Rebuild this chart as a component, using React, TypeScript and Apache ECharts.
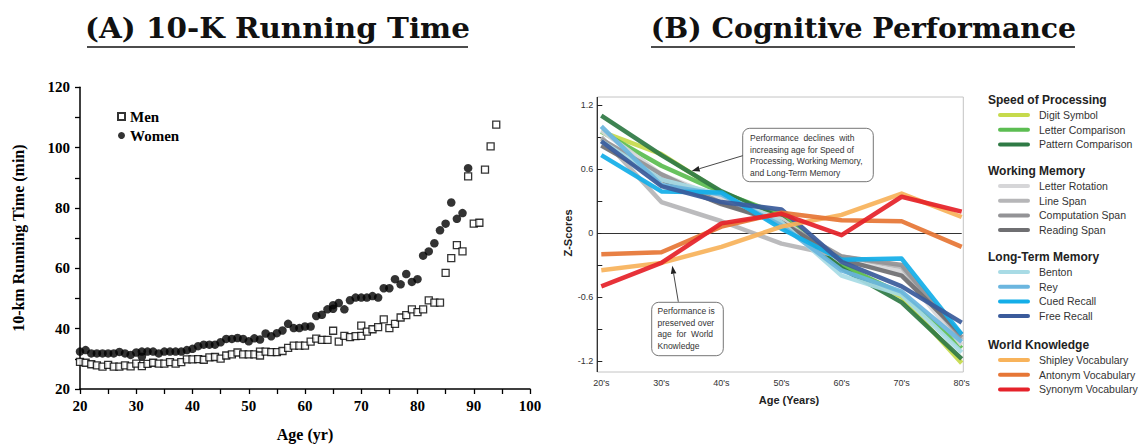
import React, { useEffect, useRef } from "react";
import * as echarts from "echarts";

// ---------- Panel A data: 10-km running time (min) by age ----------
const menPoints: number[][] = [
  [20, 29.0], [21, 28.7], [22, 28.2], [23, 27.8], [24, 27.4], [25, 28.0], [26, 27.4], [27, 27.4], [28, 27.8], [29, 27.5],
  [30, 28.4], [31, 27.6], [32, 28.3], [33, 28.7], [34, 28.4], [35, 28.4], [36, 28.9], [37, 28.4], [38, 28.9], [39, 29.8],
  [40, 29.8], [41, 29.9], [42, 29.7], [43, 30.5], [44, 30.6], [45, 30.1], [46, 31.1], [47, 31.5], [48, 32.1], [49, 31.5],
  [50, 31.5], [51, 31.5], [52, 32.4], [52, 31.1], [53, 32.4], [54, 32.2], [55, 32.2], [56, 32.6], [57, 33.6], [58, 34.4],
  [59, 34.4], [60, 34.4], [61, 35.7], [62, 36.7], [63, 36.3], [64, 36.3], [65, 39.3], [66, 35.7], [67, 37.6], [68, 37.2],
  [69, 37.5], [70, 41.0], [70, 37.6], [71, 39.0], [72, 39.8], [73, 40.5], [74, 43.1], [75, 40.2], [76, 41.6], [77, 43.7],
  [78, 44.5], [79, 46.4], [80, 45.5], [81, 46.4], [82, 49.4], [83, 48.6], [84, 48.6], [85, 58.5], [86, 63.4], [87, 67.7],
  [88, 65.6], [89, 90.5], [90, 74.8], [91, 75.1], [92, 92.7], [93, 100.4], [94, 107.6],
];
const womenPoints: number[][] = [
  [20, 32.4], [21, 32.9], [22, 31.8], [23, 31.8], [24, 31.8], [25, 31.8], [26, 31.8], [27, 32.3], [28, 31.8], [29, 31.3],
  [30, 32.1], [31, 30.7], [31, 32.4], [32, 32.4], [33, 32.4], [34, 31.8], [35, 32.4], [36, 32.4], [37, 32.4], [38, 32.4],
  [39, 32.9], [40, 33.3], [41, 34.2], [42, 34.7], [43, 34.7], [44, 34.7], [45, 35.5], [46, 36.6], [47, 36.6], [48, 36.9],
  [49, 36.6], [50, 35.8], [51, 36.8], [52, 36.4], [53, 38.4], [54, 37.5], [55, 38.5], [56, 39.4], [57, 41.6], [58, 40.2],
  [59, 40.2], [60, 40.7], [61, 40.7], [62, 44.2], [63, 44.6], [64, 46.4], [65, 47.8], [65, 46.6], [66, 48.5], [67, 46.4],
  [68, 49.4], [69, 50.3], [70, 50.3], [71, 50.3], [72, 50.8], [73, 50.3], [74, 53.4], [75, 53.4], [76, 56.4], [77, 54.7],
  [78, 58.1], [79, 55.5], [80, 56.4], [81, 64.2], [82, 65.6], [83, 68.3], [84, 72.6], [85, 74.8], [86, 81.8], [87, 76.4],
  [88, 78.3], [89, 93.2],
];

// ---------- Panel B data: z-scores by age decade ----------
const ageDecades = ["20's", "30's", "40's", "50's", "60's", "70's", "80's"];

const digitSymbol = [0.95, 0.74, 0.38, 0.15, -0.3, -0.6, -1.22];
const letterComparison = [0.95, 0.63, 0.38, 0.17, -0.3, -0.57, -1.08];
const patternComparison = [1.1, 0.73, 0.39, 0.14, -0.33, -0.65, -1.18];
const letterRotation = [0.96, 0.55, 0.32, 0.13, -0.27, -0.36, -1.05];
const lineSpan = [0.9, 0.29, 0.11, -0.1, -0.22, -0.32, -1.0];
const computationSpan = [0.88, 0.55, 0.28, 0.1, -0.22, -0.3, -0.98];
const readingSpan = [0.82, 0.5, 0.27, 0.1, -0.25, -0.4, -0.95];
const benton = [0.86, 0.5, 0.36, 0.1, -0.4, -0.58, -1.12];
const rey = [1.0, 0.45, 0.36, 0.07, -0.35, -0.55, -1.02];
const cuedRecall = [0.73, 0.39, 0.38, 0.04, -0.25, -0.24, -0.95];
const freeRecall = [0.86, 0.44, 0.29, 0.22, -0.27, -0.5, -0.84];
const shipleyVocabulary = [-0.35, -0.28, -0.13, 0.06, 0.17, 0.37, 0.15];
const antonymVocabulary = [-0.2, -0.18, 0.06, 0.19, 0.12, 0.11, -0.13];
const synonymVocabulary = [-0.5, -0.28, 0.09, 0.18, -0.02, 0.34, 0.2];

const zTicks = [-1.2, -0.6, 0, 0.6, 1.2];

const groups = [
  {
    title: "Speed of Processing",
    items: [
      { name: "Digit Symbol", color: "#c6da4c", data: digitSymbol },
      { name: "Letter Comparison", color: "#5cbd52", data: letterComparison },
      { name: "Pattern Comparison", color: "#2f7a45", data: patternComparison },
    ],
  },
  {
    title: "Working Memory",
    items: [
      { name: "Letter Rotation", color: "#d6d6d8", data: letterRotation },
      { name: "Line Span", color: "#b6b6b8", data: lineSpan },
      { name: "Computation Span", color: "#939396", data: computationSpan },
      { name: "Reading Span", color: "#6f6f72", data: readingSpan },
    ],
  },
  {
    title: "Long-Term Memory",
    items: [
      { name: "Benton", color: "#a8dbe5", data: benton },
      { name: "Rey", color: "#6bb6df", data: rey },
      { name: "Cued Recall", color: "#14aee8", data: cuedRecall },
      { name: "Free Recall", color: "#3a5b9b", data: freeRecall },
    ],
  },
  {
    title: "World Knowledge",
    items: [
      { name: "Shipley Vocabulary", color: "#f8b35b", data: shipleyVocabulary },
      { name: "Antonym Vocabulary", color: "#e67636", data: antonymVocabulary },
      { name: "Synonym Vocabulary", color: "#e5222a", data: synonymVocabulary },
    ],
  },
];

const note1 = [
  "Performance  declines  with",
  "increasing age for Speed of",
  "Processing, Working Memory,",
  "and Long-Term Memory",
];
const note2 = ["Performance is", "preserved over", "age  for  World", "Knowledge"];

const SERIF = "'Liberation Serif', 'Times New Roman', serif";
const TITLE_SERIF = "'DejaVu Serif', 'Liberation Serif', serif";
const SANS = "'Liberation Sans', Arial, Helvetica, sans-serif";

function arrow(x1: number, y1: number, x2: number, y2: number): any[] {
  const dx = x2 - x1;
  const dy = y2 - y1;
  const len = Math.sqrt(dx * dx + dy * dy);
  const ux = dx / len;
  const uy = dy / len;
  const bx = x2 - ux * 8;
  const by = y2 - uy * 8;
  const px = -uy * 2.8;
  const py = ux * 2.8;
  return [
    { type: "line", z: 100, shape: { x1, y1, x2: bx, y2: by }, style: { stroke: "#333", lineWidth: 0.9 } },
    {
      type: "polygon",
      z: 100,
      shape: { points: [[x2, y2], [bx + px, by + py], [bx - px, by - py]] },
      style: { fill: "#222" },
    },
  ];
}

function buildOption(): any {
  const graphics: any[] = [];

  // Titles with underline
  const titles = [
    { text: "(A) 10-K Running Time", cx: 277.5, x1: 87, x2: 468, sx: 1.09 },
    { text: "(B) Cognitive Performance", cx: 863.5, x1: 651, x2: 1075, sx: 1.05 },
  ];
  titles.forEach((t) => {
    graphics.push({
      type: "text",
      x: t.cx,
      y: 15,
      scaleX: t.sx,
      style: {
        text: t.text,
        fill: "#111",
        font: `bold 27px ${TITLE_SERIF}`,
        textAlign: "center",
        textVerticalAlign: "top",
      },
    });
    graphics.push({
      type: "line",
      shape: { x1: t.x1, y1: 47, x2: t.x2, y2: 47 },
      style: { stroke: "#111", lineWidth: 1.6 },
    });
  });

  // Panel B frame
  graphics.push({
    type: "rect",
    z: 0,
    shape: { x: 597.3, y: 97, width: 366, height: 275 },
    style: { fill: "none", stroke: "#c4c4c4", lineWidth: 1 },
  });
  graphics.push({
    type: "line",
    z: 1,
    shape: { x1: 597.3, y1: 97, x2: 597.3, y2: 372 },
    style: { stroke: "#222", lineWidth: 1.2 },
  });
  graphics.push({
    type: "text",
    x: 789,
    y: 400,
    style: {
      text: "Age (Years)",
      fill: "#222",
      font: `bold 11px ${SANS}`,
      textAlign: "center",
      textVerticalAlign: "middle",
    },
  });

  // Annotation boxes
  graphics.push({
    type: "rect",
    z: 99,
    shape: { x: 742.7, y: 128.3, width: 130.6, height: 53.4, r: 7 },
    style: { fill: "#fff", stroke: "#666", lineWidth: 0.9 },
  });
  note1.forEach((line, i) => {
    graphics.push({
      type: "text",
      z: 100,
      x: 750,
      y: 138 + i * 11.6,
      style: { text: line, fill: "#333", font: `8.5px ${SANS}`, textVerticalAlign: "middle" },
    });
  });
  graphics.push(...arrow(742.7, 155.7, 691.7, 171));

  graphics.push({
    type: "rect",
    z: 99,
    shape: { x: 651.7, y: 302.3, width: 71.6, height: 53.4, r: 7 },
    style: { fill: "#fff", stroke: "#666", lineWidth: 0.9 },
  });
  note2.forEach((line, i) => {
    graphics.push({
      type: "text",
      z: 100,
      x: 657.5,
      y: 311 + i * 11.7,
      style: { text: line, fill: "#333", font: `8.5px ${SANS}`, textVerticalAlign: "middle" },
    });
  });
  graphics.push(...arrow(678.3, 301.7, 672.3, 265.7));

  // Panel B grouped legend
  const headerYs = [100, 171, 257, 345];
  groups.forEach((g, gi) => {
    const hy = headerYs[gi];
    graphics.push({
      type: "text",
      x: 988,
      y: hy,
      style: { text: g.title, fill: "#222", font: `bold 12px ${SANS}`, textVerticalAlign: "middle" },
    });
    g.items.forEach((it, ii) => {
      const y = hy + 15 + ii * 14.7;
      graphics.push({
        type: "line",
        shape: { x1: 1000, y1: y, x2: 1028, y2: y },
        style: { stroke: it.color, lineWidth: 4, lineCap: "round" },
      });
      graphics.push({
        type: "text",
        x: 1039,
        y,
        style: { text: it.name, fill: "#333", font: `10.5px ${SANS}`, textVerticalAlign: "middle" },
      });
    });
  });

  const lineSeries: any[] = [];
  groups.forEach((g) => {
    g.items.forEach((it) => {
      lineSeries.push({
        type: "line",
        name: it.name,
        xAxisIndex: 1,
        yAxisIndex: 1,
        data: it.data,
        symbol: "none",
        clip: false,
        lineStyle: { color: it.color, width: 4.5, opacity: 0.93, join: "round" },
        itemStyle: { color: it.color },
        z: 3,
      });
    });
  });
  lineSeries[0].markLine = {
    silent: true,
    symbol: "none",
    label: { show: false },
    lineStyle: { color: "#333", width: 1.1, type: "solid" },
    data: [{ yAxis: 0 }],
    z: 1,
  };

  return {
    animation: false,
    backgroundColor: "#fff",
    grid: [
      { left: 80, top: 87.3, width: 450, height: 306 },
      { left: 601.3, top: 105, width: 360.4, height: 256 },
    ],
    legend: {
      data: ["Men", "Women"],
      orient: "vertical",
      left: 117,
      top: 109,
      padding: 0,
      itemGap: 4,
      itemWidth: 7,
      itemHeight: 7,
      textStyle: { fontFamily: SERIF, fontWeight: "bold", fontSize: 15, color: "#000" },
    },
    xAxis: [
      {
        type: "value",
        gridIndex: 0,
        min: 20,
        max: 100,
        interval: 5,
        name: "Age (yr)",
        nameLocation: "middle",
        nameGap: 37,
        nameTextStyle: { fontFamily: SERIF, fontWeight: "bold", fontSize: 16, color: "#000" },
        axisLine: { lineStyle: { color: "#000", width: 1.5 } },
        axisTick: { length: 5, lineStyle: { color: "#000", width: 1.3 } },
        axisLabel: {
          margin: 9,
          fontFamily: SERIF,
          fontWeight: "bold",
          fontSize: 15,
          color: "#000",
          formatter: (v: number) => (v % 10 === 0 ? String(v) : ""),
        },
        splitLine: { show: false },
      },
      {
        type: "category",
        gridIndex: 1,
        data: ageDecades,
        boundaryGap: false,
        axisLine: { show: false },
        axisTick: { show: false },
        axisLabel: { margin: 17, fontFamily: SANS, fontSize: 9, color: "#333" },
        splitLine: { show: false },
      },
    ],
    yAxis: [
      {
        type: "value",
        gridIndex: 0,
        min: 20,
        max: 120,
        interval: 10,
        name: "10-km Running Time (min)",
        nameLocation: "middle",
        nameGap: 54,
        nameRotate: 90,
        nameTextStyle: { fontFamily: SERIF, fontWeight: "bold", fontSize: 16, color: "#000" },
        axisLine: { show: true, lineStyle: { color: "#000", width: 1.5 } },
        axisTick: { show: true, length: 5, lineStyle: { color: "#000", width: 1.3 } },
        axisLabel: {
          margin: 10,
          fontFamily: SERIF,
          fontWeight: "bold",
          fontSize: 15,
          color: "#000",
          formatter: (v: number) => (v % 20 === 0 ? String(v) : ""),
        },
        splitLine: { show: false },
      },
      {
        type: "value",
        gridIndex: 1,
        min: -1.2,
        max: 1.2,
        interval: 0.3,
        offset: 4,
        name: "Z-Scores",
        nameLocation: "middle",
        nameGap: 13,
        nameRotate: 90,
        nameTextStyle: { fontFamily: SANS, fontWeight: "bold", fontSize: 11, color: "#222" },
        axisLine: { show: false },
        axisTick: { show: true, inside: true, length: 5, lineStyle: { color: "#222", width: 1 } },
        axisLabel: {
          margin: 4,
          fontFamily: SANS,
          fontSize: 9,
          color: "#333",
          formatter: (v: number) => {
            const r = Math.round(v * 10) / 10;
            return zTicks.some((t) => Math.abs(t - r) < 1e-6) ? (r === 0 ? "0" : r.toFixed(1)) : "";
          },
        },
        splitLine: { show: false },
      },
    ],
    graphic: { elements: graphics },
    series: [
      {
        type: "scatter",
        name: "Women",
        xAxisIndex: 0,
        yAxisIndex: 0,
        data: womenPoints,
        symbol: "circle",
        symbolSize: 8.5,
        itemStyle: { color: "#000" },
        z: 3,
      },
      {
        type: "scatter",
        name: "Men",
        xAxisIndex: 0,
        yAxisIndex: 0,
        data: menPoints,
        symbol: "rect",
        symbolSize: 7,
        itemStyle: { color: "#fff", borderColor: "#000", borderWidth: 1.3 },
        z: 4,
      },
      ...lineSeries,
    ],
  };
}

export default function App() {
  const ref = useRef<HTMLDivElement>(null);
  useEffect(() => {
    document.body.style.margin = "0";
    if (!ref.current) return;
    const chart = echarts.init(ref.current, undefined, { renderer: "svg" });
    chart.setOption(buildOption());
    return () => {
      chart.dispose();
    };
  }, []);
  return <div ref={ref} style={{ width: 1146, height: 447 }} />;
}
